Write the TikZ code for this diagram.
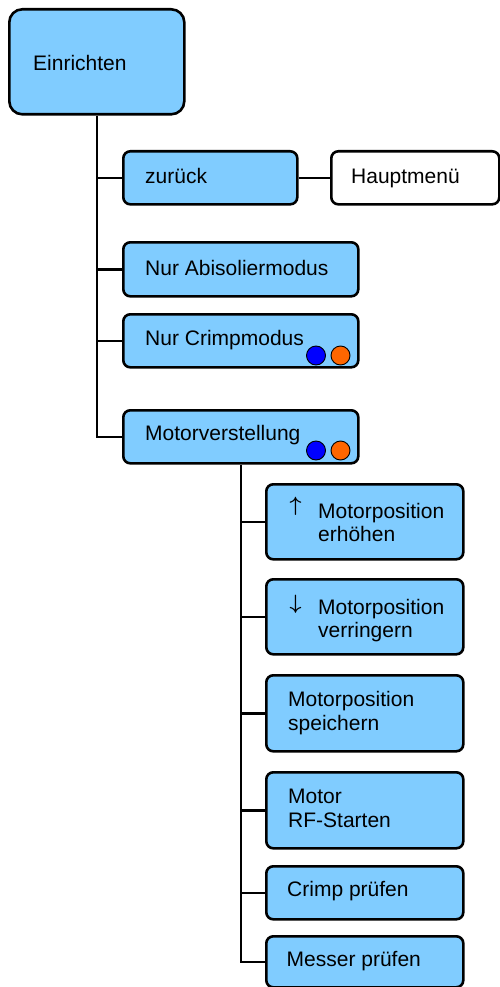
\documentclass[tikz,border=0pt]{standalone}
\usepackage{fontspec}
\setmainfont{Liberation Sans}
\begin{document}
\begin{tikzpicture}[x=1pt,y=-1pt,
  menubox/.style={draw=black, line width=2.6pt, fill=menublue, rounded corners=7pt,
    inner sep=0pt, anchor=north west},
  plainbox/.style={menubox, fill=white},
  lbl/.style={inner sep=0pt, anchor=base west, font=\fontsize{21}{23.5}\selectfont},
  arr/.style={inner sep=0pt, anchor=base west, font=\fontsize{22}{24}\selectfont\boldmath},
  conn/.style={draw=black, line width=2.5pt},
  dot/.style={circle, draw=black, line width=0.9pt, minimum size=19pt, inner sep=0pt}
]
\definecolor{menublue}{RGB}{128,204,255}
\definecolor{dotblue}{RGB}{0,0,255}
\definecolor{dotorange}{RGB}{255,102,0}
\useasboundingbox (0,0) rectangle (500,987);

% top level menu
\node[menubox, rounded corners=13pt, minimum width=175pt, minimum height=105pt] (einr) at (8,8) {};
\node[lbl] (teinr) at (33,71) {Einrichten};

% first level entries
\node[menubox, minimum width=174pt, minimum height=53pt] (zur) at (122,150) {};
\node[lbl] (tzur) at (145,183) {zurück};
\node[plainbox, minimum width=168pt, minimum height=53pt] (haupt) at (330,150) {};
\node[lbl] (thaupt) at (351,183) {Hauptmenü};

\node[menubox, minimum width=235pt, minimum height=54pt] (abis) at (122,241) {};
\node[lbl] (tabis) at (145,275) {Nur Abisoliermodus};

\node[menubox, minimum width=235pt, minimum height=53pt] (crimp) at (122,313) {};
\node[lbl] (tcrimp) at (145,345) {Nur Crimpmodus};
\node[dot, fill=dotblue] (cb1) at (316,355.5) {};
\node[dot, fill=dotorange] (co1) at (340.5,355.5) {};

\node[menubox, minimum width=235pt, minimum height=53pt] (motor) at (122,409) {};
\node[lbl] (tmotor) at (145,440.7) {Motorverstellung};
\node[dot, fill=dotblue] (cb2) at (316,450.5) {};
\node[dot, fill=dotorange] (co2) at (340.5,450.5) {};

% second level entries
\node[menubox, minimum width=197pt, minimum height=75pt] (up) at (265,483) {};
\node[arr] (aup) at (289.5,511.5) {$\uparrow$};
\node[lbl] (tup1) at (318,518.3) {Motorposition};
\node[lbl] (tup2) at (318,541.7) {erhöhen};

\node[menubox, minimum width=197pt, minimum height=75pt] (down) at (265,578) {};
\node[arr] (adown) at (289.5,609.5) {$\downarrow$};
\node[lbl] (tdown1) at (318,614) {Motorposition};
\node[lbl] (tdown2) at (318,637) {verringern};

\node[menubox, minimum width=197pt, minimum height=76pt] (save) at (265,674) {};
\node[lbl] (tsave1) at (288,706.7) {Motorposition};
\node[lbl] (tsave2) at (288,730.7) {speichern};

\node[menubox, minimum width=197pt, minimum height=76pt] (rf) at (265,771) {};
\node[lbl] (trf1) at (288,803) {Motor};
\node[lbl] (trf2) at (288,827.7) {RF-Starten};

\node[menubox, minimum width=197pt, minimum height=53pt] (cpr) at (265,865) {};
\node[lbl] (tcpr) at (287,896.7) {Crimp prüfen};

\node[menubox, minimum width=197pt, minimum height=51pt] (mpr) at (265,935) {};
\node[lbl] (tmpr) at (286.5,966.7) {Messer prüfen};

% tree connectors
\draw[conn] (einr.south) |- (motor.west);
\draw[conn] (einr.south |- zur.west) -- (zur.west);
\draw[conn] (einr.south |- abis.west) -- (abis.west);
\draw[conn] (einr.south |- crimp.west) -- (crimp.west);
\draw[conn] (zur.east) -- (haupt.west);

\draw[conn] (motor.south) |- (mpr.west);
\draw[conn] (motor.south |- up.west) -- (up.west);
\draw[conn] (motor.south |- down.west) -- (down.west);
\draw[conn] (motor.south |- save.west) -- (save.west);
\draw[conn] (motor.south |- rf.west) -- (rf.west);
\draw[conn] (motor.south |- cpr.west) -- (cpr.west);
\end{tikzpicture}
\end{document}
